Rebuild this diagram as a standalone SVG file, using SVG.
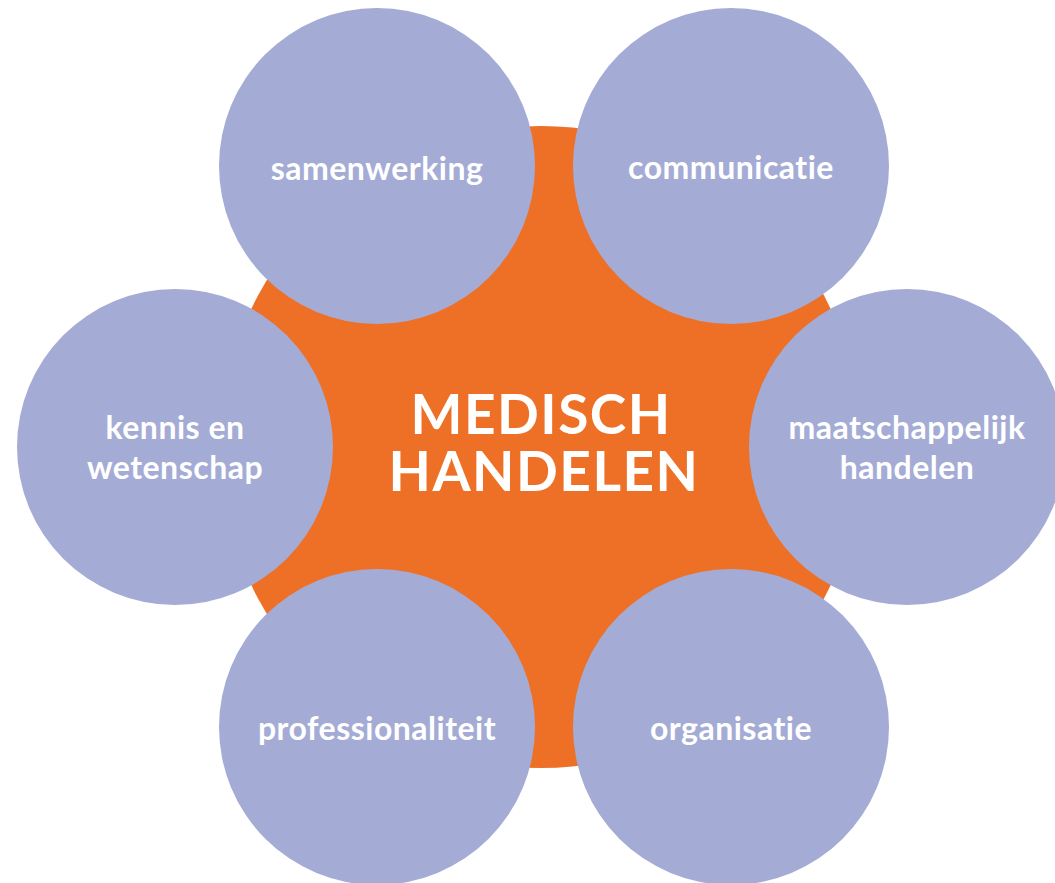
<svg xmlns="http://www.w3.org/2000/svg" width="1055" height="883" viewBox="0 0 1055 883">
  <style>
    .core { fill: #EE7027; }
    .topic { fill: #A4ACD6; }
    .label { font-family: Lato, "Open Sans", sans-serif; font-weight: 700; font-size: 32px; fill: #FFFFFF; text-anchor: middle; letter-spacing: 0.5px; }
    .title { font-family: Lato, "Open Sans", sans-serif; font-weight: 700; font-size: 55px; fill: #FFFFFF; text-anchor: middle; letter-spacing: 1.5px; }
  </style>
  <rect width="1055" height="883" fill="#FFFFFF"/>

  <!-- central node -->
  <g id="medisch-handelen">
    <circle class="core" cx="541" cy="447" r="321"/>
  </g>

  <!-- surrounding competence nodes -->
  <g id="samenwerking">
    <circle class="topic" cx="377" cy="166" r="158"/>
    <text class="label" x="377" y="180">samenwerking</text>
  </g>
  <g id="communicatie">
    <circle class="topic" cx="731" cy="166" r="158"/>
    <text class="label" x="731" y="179">communicatie</text>
  </g>
  <g id="kennis-en-wetenschap">
    <circle class="topic" cx="175" cy="447" r="158"/>
    <text class="label" x="175" y="439">kennis en<tspan x="175" y="479">wetenschap</tspan></text>
  </g>
  <g id="maatschappelijk-handelen">
    <circle class="topic" cx="907" cy="447" r="158"/>
    <text class="label" x="907" y="439">maatschappelijk<tspan x="907" y="479">handelen</tspan></text>
  </g>
  <g id="professionaliteit">
    <circle class="topic" cx="377" cy="727" r="158"/>
    <text class="label" x="377" y="740">professionaliteit</text>
  </g>
  <g id="organisatie">
    <circle class="topic" cx="731" cy="727" r="158"/>
    <text class="label" x="731" y="740">organisatie</text>
  </g>

  <!-- central title drawn above the ring of nodes -->
  <g id="medisch-handelen-label">
    <text class="title" x="541" y="434">MEDISCH<tspan x="544" y="491">HANDELEN</tspan></text>
  </g>

  <g id="connectors"/>
</svg>
